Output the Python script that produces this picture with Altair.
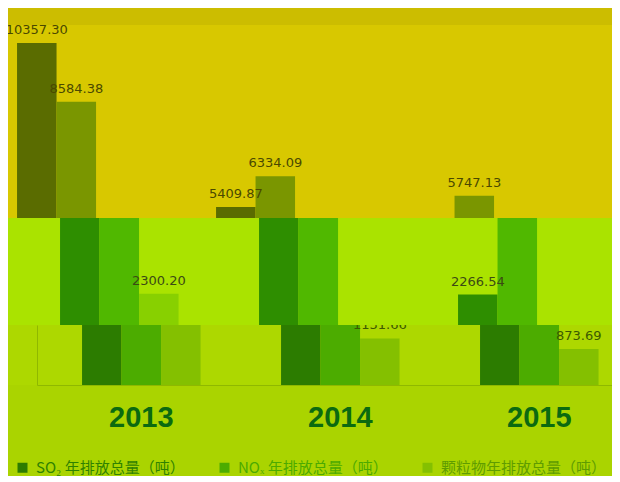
import altair as alt
import pandas as pd

years = ["2013", "2014", "2015"]
series = ["SO₂ 年排放总量（吨）", "NOₓ 年排放总量（吨）", "颗粒物年排放总量（吨）"]
so2 = [10357.30, 5409.87, 2266.54]
nox = [8584.38, 6334.09, 5747.13]
pm = [2300.20, 1131.66, 873.69]

rows = []
for name, vals in zip(series, [so2, nox, pm]):
    for y, v in zip(years, vals):
        rows.append({"year": y, "series": name, "value": v})
df = pd.DataFrame(rows)

W = 604


def panel(height, y_domain, x_shift, colors, text_color, fill, bottom=False, legend=None):
    x_axis = None
    y_axis = None
    if bottom:
        x_axis = alt.Axis(title=None, labelAngle=0, labelFont="Liberation Sans",
                          labelFontSize=29, labelFontWeight="bold", labelColor="#0b6a10",
                          ticks=False, domainColor="#8fb800", domainWidth=1, labelPadding=18)
        y_axis = alt.Axis(title=None, labels=False, ticks=False, grid=False, domain=True,
                          domainColor="#8fb800", domainWidth=1, offset=-29)
    x = alt.X("year:N", sort=years,
              scale=alt.Scale(domain=years, range=[29 + x_shift, W + x_shift],
                              paddingInner=0.4045, paddingOuter=0.147, align=0.77),
              axis=x_axis)
    xo = alt.XOffset("series:N", sort=series,
                     scale=alt.Scale(domain=series, paddingInner=0, paddingOuter=0))
    y = alt.Y("value:Q", scale=alt.Scale(domain=y_domain, nice=False, zero=False), axis=y_axis)
    base = alt.Chart(df)
    bars = base.mark_bar(clip=True).encode(
        x=x, xOffset=xo, y=y, y2=alt.datum(0),
        color=alt.Color("series:N", sort=series,
                        scale=alt.Scale(domain=series, range=colors), legend=legend),
    )
    text = base.transform_filter(
        alt.datum.value >= y_domain[0]
    ).mark_text(clip=True, baseline="bottom", dy=-6, font="DejaVu Sans",
                fontSize=13).encode(
        x=x, xOffset=xo, y=y,
        text=alt.Text("value:Q", format=".2f"),
        color=alt.value(text_color),
    )
    return alt.layer(bars, text).properties(
        width=W, height=height, view=alt.ViewBackground(fill=fill, stroke=None)
    ).resolve_scale(color="independent")


legend = alt.Legend(
    orient="none", legendX=7, legendY=135, direction="horizontal", columns=3,
    title=None, symbolType="square", symbolSize=100, symbolStrokeWidth=0,
    labelFont="Noto Sans CJK SC", labelFontSize=15, labelOffset=6, labelLimit=400,
    columnPadding=32,
    labelColor={"expr": "datum.index === 0 ? '#2f8200' : datum.index === 1 ? '#4caa00' : '#5f9c00'"},
)

band = panel(17, [10900, 11415], -65, ["#5a6c00", "#7a9600", "#9aa800"], "#4a4800", "#ccbd00")
top = panel(193, [5077, 10900], -65, ["#5a6c00", "#7a9600", "#9aa800"], "#4a4800", "#d8c800")
mid = panel(107, [1150, 5077], -22, ["#2e8e00", "#50b800", "#88d000"], "#3c4a14", "#aae300")
bot = panel(60, [0, 1460], 0, ["#2c7c00", "#4cac00", "#84c000"], "#3c5a00", "#add800",
            bottom=True, legend=legend)

chart = alt.vconcat(band, top, mid, bot, spacing=0, padding=0, background="#aad400").resolve_scale(
    x="independent", y="independent", color="independent", xOffset="independent"
).configure_view(stroke=None)

chart.save("out.html", embed_options={"renderer": "svg", "actions": False})
